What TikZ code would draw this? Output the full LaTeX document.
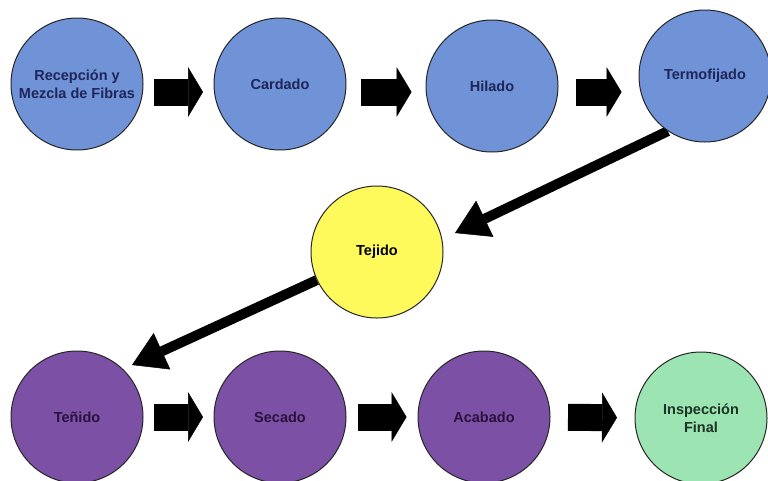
\documentclass[tikz,border=0pt]{standalone}
\usepackage{fontspec}
\setmainfont{Liberation Sans}
\usepackage{xcolor}
\usetikzlibrary{arrows.meta,backgrounds}

\definecolor{procblue}{RGB}{112,146,214}
\definecolor{procpurple}{RGB}{124,80,164}
\definecolor{procyellow}{RGB}{255,250,92}
\definecolor{procgreen}{RGB}{156,228,178}
\definecolor{bluetext}{RGB}{30,38,90}
\definecolor{purpletext}{RGB}{42,18,62}
\definecolor{greentext}{RGB}{28,52,38}

\begin{document}
\begin{tikzpicture}[x=1pt,y=-1pt,font=\fontsize{14.5}{18}\selectfont\bfseries,
 stage/.style={circle,draw=black!85,line width=1pt,minimum size=132pt,inner sep=0pt,align=center},
 blk/.style={line width=27pt,-{Triangle[length=15pt,width=50pt,line width=.5pt]},shorten <=#1,shorten >=#1},
 diag/.style={line width=10pt,-{Triangle[length=33pt,width=40pt,line width=.5pt]}}]
 \useasboundingbox (0,0) rectangle (768,480);
 \clip (0,0) rectangle (768,480);
 \node[stage,fill=procblue,text=bluetext] (rec) at (77,84) {Recepción y\\Mezcla de Fibras};
 \node[stage,fill=procblue,text=bluetext] (car) at (280,84) {Cardado};
 \node[stage,fill=procblue,text=bluetext] (hil) at (492,86) {Hilado};
 \node[stage,fill=procblue,text=bluetext] (ter) at (705,76) {Termofijado};
 \node[stage,fill=procyellow,text=black] (tej) at (377,252) {Tejido};
 \node[stage,fill=procpurple,text=purpletext] (ten) at (77,417) {Teñido};
 \node[stage,fill=procpurple,text=purpletext] (sec) at (280,417) {Secado};
 \node[stage,fill=procpurple,text=purpletext] (aca) at (484,417) {Acabado};
 \node[stage,fill=procgreen,text=greentext] (ins) at (701,418) {Inspección\\Final};
 \coordinate (tejtip) at (455,233);
 \coordinate (tentip) at (132,365);
 \begin{scope}[on background layer]
  \fill[white] (0,0) rectangle (768,480);
  \draw[diag] (ter.-124) -- (tejtip);
  \draw[diag] (tej.-155) -- (tentip);
 \end{scope}
 \draw[blk=10.5pt] ([yshift=-8pt]rec.east) -- ([yshift=-8pt]rec.east -| car.west);
 \draw[blk=14pt] ([yshift=-8pt]car.east) -- ([yshift=-8pt]car.east -| hil.west);
 \draw[blk=17pt] ([yshift=-6pt]hil.east) -- ([yshift=-6pt]hil.east -| ter.west);
 \draw[blk=10.5pt] (ten) -- (sec);
 \draw[blk=11pt] (sec) -- (aca);
 \draw[blk=17.5pt] (aca) -- (ins);
\end{tikzpicture}
\end{document}
